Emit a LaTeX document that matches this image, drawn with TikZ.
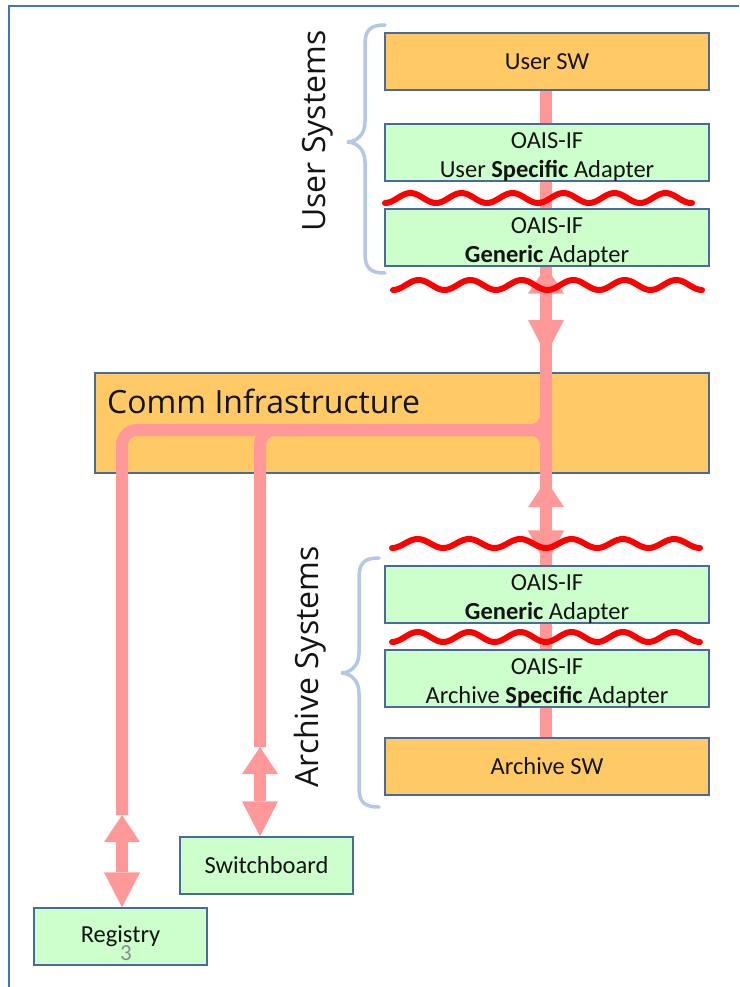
\documentclass[tikz,border=0pt]{standalone}
\usepackage{fontspec}
\setmainfont{Carlito}
\newfontfamily\labelfont{Open Sans}
\usetikzlibrary{arrows.meta}

\definecolor{swfill}{HTML}{FFCA66}
\definecolor{iffill}{HTML}{CCFFCC}
\definecolor{boxline}{HTML}{4A6A9C}
\definecolor{flowpink}{HTML}{FF9999}
\definecolor{wavered}{HTML}{FF0000}
\definecolor{bracecol}{HTML}{B4C7E7}
\definecolor{framecol}{HTML}{4472C4}
\definecolor{pagenum}{HTML}{8C8C8C}

\pgfdeclarelayer{bottom}
\pgfdeclarelayer{flowlayer}
\pgfsetlayers{bottom,flowlayer,main}

% two-line box text; the strut lowers the block to sit centred in the box
\newcommand{\twolines}[2]{\rule{0pt}{24pt}#1\\#2}

\begin{document}
\begin{tikzpicture}[x=1pt,y=-1pt,
  box/.style={draw=boxline, line width=1.2pt, inner sep=0pt,
    minimum width=324pt, minimum height=57pt, align=center,
    text=black!92, font=\fontsize{24.5}{29}\selectfont},
  swbox/.style={box, fill=swfill},
  ifbox/.style={box, fill=iffill},
  smallbox/.style={ifbox, minimum width=173pt},
  flowline/.style={draw=flowpink, line width=12pt},
  twoway/.style={flowline,
    {Triangle[length=27pt,width=36pt,line width=0pt]}-{Triangle[length=35pt,width=36pt,line width=0pt]}},
  wave/.style={draw=wavered, line width=6pt, line cap=round, line join=round},
  bracket/.style={draw=bracecol, line width=3.5pt, line cap=round},
  biglabel/.style={font=\labelfont\fontsize{32}{38}\selectfont, text=black!92, inner sep=0pt}
]
\useasboundingbox (0,0) rectangle (739,987);

% slide frame
\draw[framecol, line width=2pt] (9,987) -- (9,6) -- (739,6);

% communication layer
\begin{pgfonlayer}{bottom}
  \node[draw=boxline, line width=1.2pt, fill=swfill, minimum width=614pt,
        minimum height=100pt, inner sep=0pt] (comm) at (402,423) {};
\end{pgfonlayer}
\node[biglabel, anchor=base west] (commlabel) at (107,413) {Comm Infrastructure};

% user side
\node[swbox] (usw) at (547,61.5) {User SW};
\node[ifbox] (uspec) at (547,152.5) {\twolines{OAIS-IF}{User \textbf{Specific} Adapter}};
\node[ifbox] (ugen) at (547,237.5) {\twolines{OAIS-IF}{\textbf{Generic} Adapter}};

% archive side
\node[ifbox] (agen) at (547,594.5) {\twolines{OAIS-IF}{\textbf{Generic} Adapter}};
\node[ifbox] (aspec) at (547,678.5) {\twolines{OAIS-IF}{Archive \textbf{Specific} Adapter}};
\node[swbox] (asw) at (547,766.5) {Archive SW};

% services
\node[smallbox] (sb) at (266.5,865.5) {Switchboard};
\node[smallbox] (reg) at (120.5,936.5) {Registry};
\node[text=pagenum, font=\fontsize{23}{27}\selectfont, inner sep=0pt] (pg) at (126,953) {3};

% routing points
\coordinate (hub) at (546,430);
\coordinate (hubup) at (546,395);
\coordinate (hubdown) at (546,465);
\coordinate (regturn) at (122,430);
\coordinate (sbturn) at (260,430);
\coordinate (regtip) at (122,815);
\coordinate (sbtip) at (260,747);
\coordinate (upmid) at (546,355);
\coordinate (lowtop) at (546,480);

% message flow behind the boxes
\begin{pgfonlayer}{flowlayer}
  \draw[flowline] (usw.south -| hub) -- (asw.north -| hub);
  \draw[flowline, rounded corners=15pt] (hubup) -- (hub) -- (regturn) -- (regtip);
  \draw[flowline, rounded corners=15pt] (hubdown) -- (hub) -- (sbturn) -- (sbtip);
\end{pgfonlayer}

% two-way arrows
\draw[twoway] (ugen.south -| hub) -- (upmid);
\draw[twoway] (lowtop) -- (agen.north -| hub);
\draw[twoway] (regtip) -- (reg.north -| regtip);
\draw[twoway] (sbtip) -- (sb.north -| sbtip);

% interface breaks
\draw[wave] plot[domain=385:692, samples=140, smooth] (\x,{198+5*cos(7.0588*(\x-385))});
\draw[wave] plot[domain=393:702, samples=140, smooth] (\x,{285+5*cos(6.9903*(\x-393))});
\draw[wave] plot[domain=392:700, samples=140, smooth] (\x,{543.5+4.5*cos(7.0175*(\x-392))});
\draw[wave] plot[domain=392:700, samples=140, smooth] (\x,{637+5*cos(7.0175*(\x-392))});

% group brackets
\draw[bracket] (385,25) .. controls (370,25) and (365,30) .. (365,45)
  -- (365,122) .. controls (365,135) and (356,142) .. (347,142)
  .. controls (356,142) and (365,149) .. (365,162)
  -- (365,253) .. controls (365,268) and (370,273) .. (385,273);
\draw[bracket] (379,558) .. controls (364,558) and (359,563) .. (359,578)
  -- (359,653) .. controls (359,666) and (350,673) .. (341,673)
  .. controls (350,673) and (359,680) .. (359,693)
  -- (359,787) .. controls (359,802) and (364,807) .. (379,807);

\node[biglabel, rotate=90, anchor=base] (userlabel) at (325.5,131) {User Systems};
\node[biglabel, rotate=90, anchor=base] (archlabel) at (318.5,667) {Archive Systems};
\end{tikzpicture}
\end{document}
